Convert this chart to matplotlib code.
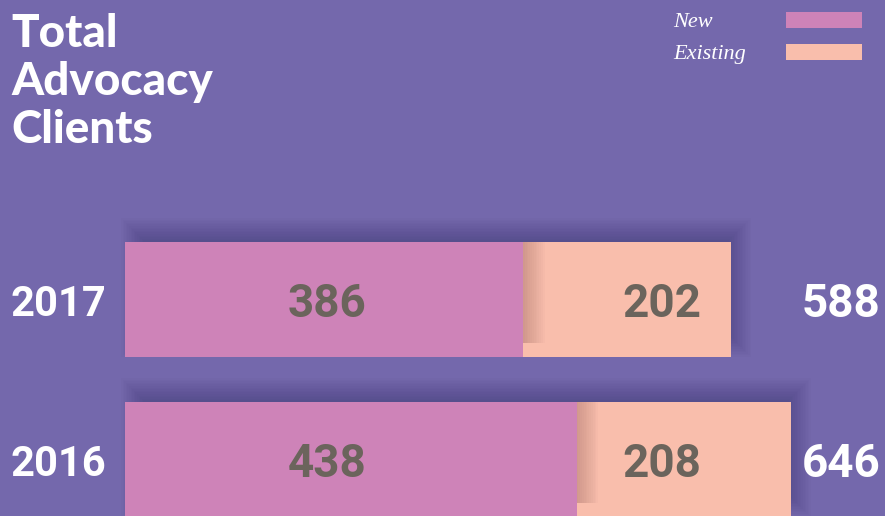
import matplotlib
matplotlib.use("Agg")
import matplotlib.pyplot as plt
from matplotlib.patches import Rectangle

# ---- data ----
years = ["2017", "2016"]
new_clients = [386, 438]
existing_clients = [202, 208]
totals = [a + b for a, b in zip(new_clients, existing_clients)]
title_lines = ["Total", "Advocacy", "Clients"]
legend_labels = ["New", "Existing"]

# ---- style ----
BG = "#7468AC"
C_NEW = "#CE83B8"
C_EX = "#F9BEAC"
C_NUM = "#6B645C"
W, H = 885, 516
PX_PER_UNIT = 1.031       # pixels per client
ROW_PX = 160              # pixels between rows
BAR_H = 115 / ROW_PX
X0_PX = 125
Y0_PX = 299.5

fig = plt.figure(figsize=(W / 100, H / 100), dpi=100)
fig.patch.set_facecolor(BG)
ax = fig.add_axes([0, 0, 1, 1])
ax.set_facecolor(BG)
ax.set_xlim(-X0_PX / PX_PER_UNIT, (W - X0_PX) / PX_PER_UNIT)
ax.set_ylim((H - Y0_PX) / ROW_PX, -Y0_PX / ROW_PX)
ax.axis("off")

px_x = 1 / PX_PER_UNIT
px_y = 1 / ROW_PX

ypos = list(range(len(years)))

# shadows behind bars (offset up/right, blurred by stacked translucent rects)
n_layers = 16
blur = 12
off_x, off_y = 8, 12
for y, n, e in zip(ypos, new_clients, existing_clients):
    total = n + e
    for k in range(n_layers):
        d = -blur + 2 * blur * k / (n_layers - 1)
        ax.add_patch(Rectangle((off_x * px_x - d * px_x, y - BAR_H / 2 - off_y * px_y - d * px_y),
                               total + 2 * d * px_x, BAR_H + 2 * d * px_y,
                               facecolor="black", alpha=0.011, linewidth=0, zorder=1))

# bars
ax.barh(ypos, new_clients, height=BAR_H, color=C_NEW, zorder=3)
ax.barh(ypos, existing_clients, left=new_clients, height=BAR_H, color=C_EX, zorder=3)

# inner shadow cast by the new segment onto the existing segment
for y, n in zip(ypos, new_clients):
    for k in range(12):
        w = (k + 1) * 1.8 * px_x
        ax.add_patch(Rectangle((n, y - BAR_H / 2), w, BAR_H - 14 * px_y,
                               facecolor="#8a5a5a", alpha=0.03, linewidth=0, zorder=4))

num_font = dict(family="Roboto", fontweight="bold", fontsize=33)

for y, yr, n, e, t in zip(ypos, years, new_clients, existing_clients, totals):
    ax.text(10 * px_x - X0_PX * px_x, y, yr, color="white", ha="left", va="center_baseline",
            family="Roboto", fontweight="bold", fontsize=30)
    ax.text(327 * px_x - X0_PX * px_x, y, str(n), color=C_NUM, ha="center", va="center_baseline", zorder=5, **num_font)
    ax.text(662 * px_x - X0_PX * px_x, y, str(e), color=C_NUM, ha="center", va="center_baseline", zorder=5, **num_font)
    ax.text((W - 5 - X0_PX) * px_x, y, str(t), color="white", ha="right", va="center_baseline", zorder=5, **num_font)

# title
fig.text(11 / W, 1 - 143 / H, "\n".join(title_lines), color="white", fontsize=33,
         family="Lato", fontweight="black", ha="left", va="baseline", linespacing=1.18)

# legend
leg_colors = [C_NEW, C_EX]
for i, (lab, col) in enumerate(zip(legend_labels, leg_colors)):
    base = 27 + 32 * i
    fig.text(673 / W, 1 - base / H, lab, color="white", fontsize=16, family="Liberation Serif",
             style="italic", ha="left", va="baseline")
    fig.patches.append(Rectangle((786 / W, 1 - (base + 1) / H), 76 / W, 16 / H,
                                 facecolor=col, linewidth=0, transform=fig.transFigure, figure=fig))

fig.savefig("out.png", dpi=100, facecolor=BG)
